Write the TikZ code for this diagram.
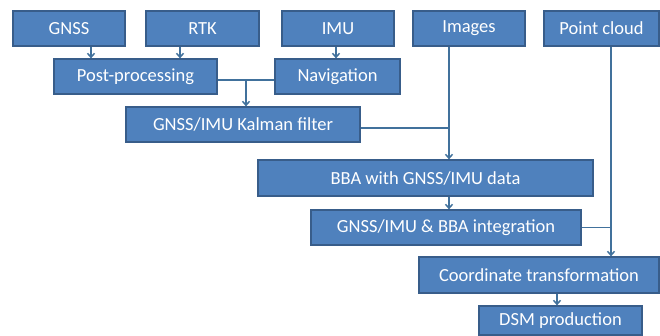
\documentclass[tikz,border=0pt]{standalone}
\usepackage{fontspec}
\setmainfont{Carlito}
\usetikzlibrary{arrows.meta}

\definecolor{boxfill}{HTML}{4F81BD}
\definecolor{boxline}{HTML}{385D8A}
\definecolor{wire}{HTML}{41719C}

\tikzset{
    block/.style = {draw = boxline, line width = 1.2pt, fill = boxfill,
                    text = white, inner sep = 0pt,
                    font = \fontsize{18.5}{22}\selectfont},
    wireline/.style = {draw = wire, line width = 1.5pt},
    arr/.style = {wireline, -{Straight Barb[length = 4pt, width = 7pt]}}
}

\begin{document}
\begin{tikzpicture}[x = 1pt, y = -1pt]
        \useasboundingbox (0, 0) rectangle (660, 336);

        \node [block, minimum width = 112pt, minimum height = 35pt] (gnss) at (69, 28.5) {GNSS};
        \node [block, minimum width = 113pt, minimum height = 35pt] (rtk) at (202.5, 28.5) {RTK};
        \node [block, minimum width = 112pt, minimum height = 35pt] (imu) at (338, 28.5) {IMU};
        \node [block, minimum width = 112pt, minimum height = 35pt] (images) at (469, 28.5) {Images};
        \node [block, minimum width = 115pt, minimum height = 35pt] (cloud) at (601.5, 28.5) {Point cloud};

        \node [block, minimum width = 163pt, minimum height = 35pt] (post) at (135.5, 76.5) {Post-processing};
        \node [block, minimum width = 125pt, minimum height = 35pt] (nav) at (337.5, 76.5) {Navigation};
        \node [block, minimum width = 234pt, minimum height = 35pt] (kalman) at (243, 124.5) {GNSS/IMU Kalman filter};
        \node [block, minimum width = 335pt, minimum height = 36pt] (bba) at (425.5, 178) {BBA with GNSS/IMU data};
        \node [block, minimum width = 270pt, minimum height = 35pt] (integ) at (446, 227.5) {GNSS/IMU \& BBA integration};
        \node [block, minimum width = 240pt, minimum height = 36pt] (coord) at (539, 275) {Coordinate transformation};
        \node [block, minimum width = 163pt, minimum height = 29pt] (dsm) at (560.5, 320.5) {DSM production};

        \coordinate (joint) at (246, 80);
        \coordinate (imgx) at (449, 0);
        \coordinate (cloudx) at (611, 0);

        \draw [arr] ([xshift = 22pt] gnss.south) -- ([xshift = 22pt] gnss.south |- post.north);
        \draw [arr] ([xshift = -22.5pt] rtk.south) -- ([xshift = -22.5pt] rtk.south |- post.north);
        \draw [arr] ([xshift = -2pt] imu.south) -- ([xshift = -2pt] imu.south |- nav.north);

        \draw [wireline] (post.east |- joint) -- (nav.west |- joint);
        \draw [arr] (joint) -- (joint |- kalman.north);

        \draw [wireline] (kalman.east |- 0, 128) -- (imgx |- 0, 128);
        \draw [arr] (imgx |- images.south) -- (imgx |- bba.north);
        \draw [arr] (imgx |- bba.south) -- (imgx |- integ.north);

        \draw [wireline] (integ.east) -- (cloudx |- integ.east);
        \draw [arr] (cloudx |- cloud.south) -- (cloudx |- coord.north);
        \draw [arr] ([xshift = -3.5pt] dsm.north |- coord.south) -- ([xshift = -3.5pt] dsm.north);
    \end{tikzpicture}
\end{document}
